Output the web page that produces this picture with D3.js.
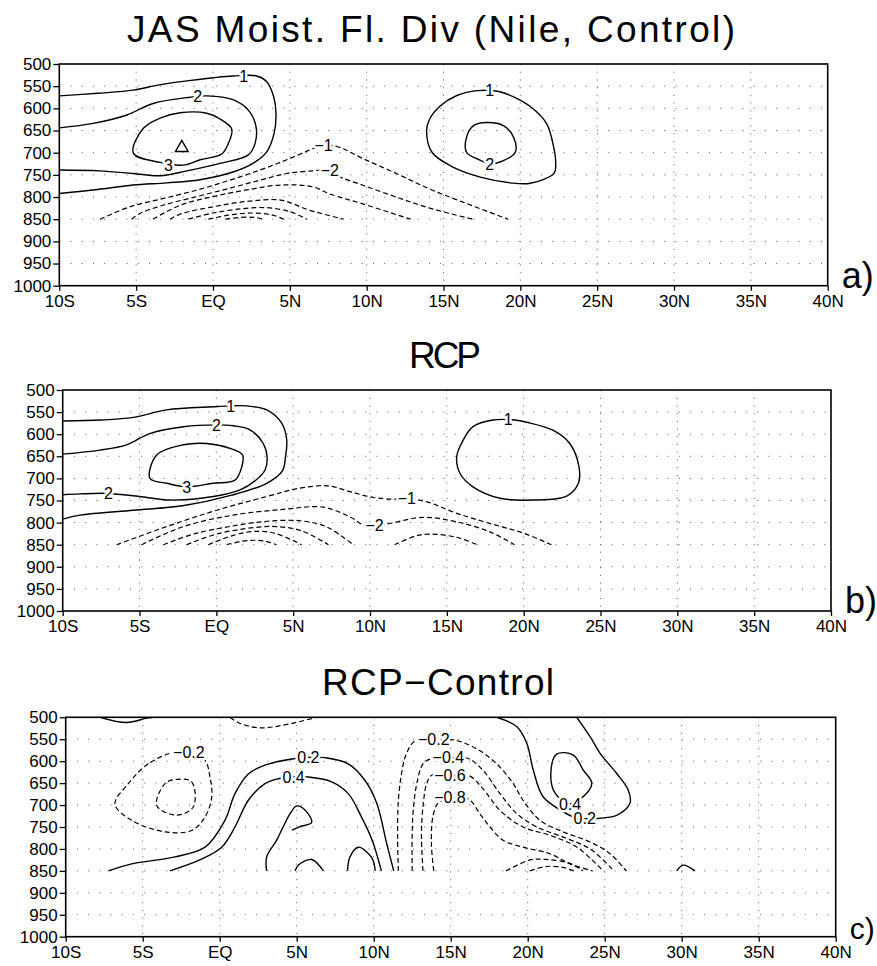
<!DOCTYPE html>
<html>
<head>
  <meta charset="utf-8">
  <script src="https://cdn.jsdelivr.net/npm/d3@7"></script>
  <style>
    body{ margin:0; background:#fff; }
    text{ font-family:"Liberation Sans", Arial, sans-serif; fill:#000; }
    .tick text{ font-size:17px; }
    .grid line{ stroke:#777; stroke-width:1; }
    .clabel{ font-size:16px; paint-order:stroke; stroke:#fff; stroke-width:5px; stroke-linejoin:round; }
  </style>
</head>
<body>
<svg id="chart" width="877" height="966"></svg>
<script>
// axes values
var latTicks = [-10, -5, 0, 5, 10, 15, 20, 25, 30, 35, 40];
var latLabels = ["10S", "5S", "EQ", "5N", "10N", "15N", "20N", "25N", "30N", "35N", "40N"];
var presTicks = [500, 550, 600, 650, 700, 750, 800, 850, 900, 950, 1000];
var titles = ["JAS Moist. Fl. Div (Nile, Control)", "RCP", "RCP\u2212Control"];
var letters = ["a)", "b)", "c)"];

// contours: value, closed?, [lat, hPa] points
var ctlLines = [
  {v:1, pts:[[-10,572],[-7.5,566],[-5.2,559],[-3.5,547],[-1.7,538],[0,531],[1.3,527],[2.85,527],[3.5,540],[3.95,574],[4.1,611],[3.98,656],[3.5,698],[2.6,724],[1.35,743],[-0.84,761],[-3,768],[-5.2,773],[-7.5,783],[-10,792]]},
  {v:2, pts:[[-10,644],[-7.8,634],[-5.6,615],[-3.9,589],[-1.5,575],[-0.4,572],[1.33,581],[2.3,604],[2.8,641],[2.74,679],[2.3,705],[0.46,724],[-1.7,741],[-3.44,752],[-5.2,747],[-7.35,741],[-10,739]]},
  {v:3, closed:true, pts:[[-4.53,645],[-3.44,622],[-2.14,610],[-0.4,611],[0.46,624],[1.22,647],[1.0,679],[0.57,703],[-0.84,716],[-1.93,728],[-3.44,722],[-5.18,701]]},
  {v:1, closed:true, pts:[[17.2,560],[15.87,571],[14.8,594],[14.1,624],[13.9,650],[14.25,699],[15.65,733],[17.4,755],[19.35,768],[20.65,769],[22.2,746],[22.3,724],[22.16,686],[21.7,634],[20.65,596],[19.56,574],[18.6,562]]},
  {v:2, closed:true, pts:[[16.95,639],[17.8,632],[18.9,639],[19.56,665],[19.67,699],[18.9,718],[18,725],[17.2,714],[16.5,699],[16.5,665]]},
  {v:-1, pts:[[-7.35,850],[-5.4,822],[-3.2,803],[-1,784],[1.1,762],[3.07,739],[4.8,716],[6.3,694],[7.1,684],[8.06,686],[9.8,714],[12,748],[14.1,782],[16.3,812],[19.2,850]]},
  {v:-2, pts:[[-5.3,850],[-4.75,837],[-3.2,818],[-1.05,799],[1.1,780],[3.07,762],[4.8,747],[6.5,741],[7.6,739],[8.1,752],[9.8,774],[12,801],[14.1,825],[16.9,850]]},
  {v:-3, pts:[[-3.9,850],[-2.1,818],[0,799],[2.2,784],[4.4,773],[6.5,777],[7.6,793],[9.8,816],[12.85,850]]},
  {v:-4, pts:[[-2.8,850],[-2.1,838],[0,822],[2.2,810],[4.4,807],[6.3,830],[8.5,850]]},
  {v:-5, pts:[[-1.6,850],[0,836],[2,826],[3.5,824],[5,833],[6.1,850]]},
  {v:-6, pts:[[-0.3,850],[1,841],[2.5,836],[3.8,840],[4.6,850]]},
  {v:-7, pts:[[0.8,850],[1.8,846],[2.7,846],[3.3,850]]}
];
var ctlLabels = [[2.0,527,"1"],[-1.0,572,"2"],[-2.9,729,"3"],[18.0,560,"1"],[18.0,725,"2"],[7.2,684,"\u22121"],[7.6,739,"\u22122"]];
var ctlMax = [[-2.03,689]];

var rcpLines = [
  {v:1, pts:[[-10,570],[-7.5,568],[-5.4,562],[-3.23,545],[-0.2,538],[0.93,536],[1.97,536],[3.28,545],[4.25,575],[4.58,613],[4.5,651],[4.3,683],[3.28,711],[1.0,738],[-2.2,762],[-5.4,772],[-8.87,783],[-10,792]]},
  {v:2, pts:[[-10,645],[-7.57,636],[-5.84,624],[-4.3,598],[-2.15,583],[0,579],[1.1,581],[2.19,590],[3.05,621],[3.3,651],[3.17,681],[2.6,703],[1.54,726],[-0.2,741],[-3.0,749],[-5,741],[-7.03,734],[-8.87,735],[-10,737]]},
  {v:3, closed:true, pts:[[-3.88,647],[-2.15,624],[-0.63,621],[0.89,632],[1.71,647],[1.65,674],[1.21,704],[-0.2,711],[-1.93,719],[-3.23,711],[-4.32,700]]},
  {v:1, closed:true, pts:[[18.0,568],[16.7,583],[16.07,613],[15.64,651],[15.86,689],[16.7,719],[18.46,745],[20.6,749],[22.8,740],[23.56,711],[23.6,674],[23.0,621],[21.9,591],[20.2,573],[19.43,568]]},
  {v:-1, pts:[[-6.49,850],[-3.23,809],[0.02,772],[3.28,741],[5.44,722],[7.29,717],[8.7,730],[10.2,743],[11.5,747],[12.5,746],[13.7,753],[15.64,779],[17.8,802],[20.0,824],[21.8,850]]},
  {v:-2, pts:[[-4.86,850],[-2.15,809],[1.1,783],[4.36,770],[6.96,765],[8.7,787],[9.56,805],[10.3,808],[11.3,802],[13.47,788],[15.6,798],[17.8,821],[19.4,850]]},
  {v:-3, pts:[[-3.45,850],[-1.5,826],[1,808],[3.3,797],[5.5,796],[7.2,810],[8.9,850]]},
  {v:-3, pts:[[11.6,850],[13.0,830],[13.9,826],[15.6,833],[17.0,850]]},
  {v:-4, pts:[[-1.93,850],[0,826],[2.5,811],[3.9,809],[5.5,818],[7.3,850]]},
  {v:-5, pts:[[-0.52,850],[1,830],[2.4,820],[3.8,824],[5.55,850]]},
  {v:-6, pts:[[0.67,850],[1.7,842],[2.6,840],[3.3,843],[3.9,850]]}
];
var rcpLabels = [[0.93,536,"1"],[0,579,"2"],[-7.03,734,"2"],[-1.93,719,"3"],[19.0,566,"1"],[12.4,746,"\u22121"],[10.3,807,"\u22122"]];
var rcpMax = [];

var diffLines = [
  {v:0.2, pts:[[-7.77,500],[-6.04,512],[-4.74,502],[-4.3,500]]},
  {v:-0.2, pts:[[0.67,500],[1.32,514],[2.6,524],[4.13,518],[6.3,500]]},
  {v:-0.2, closed:true, pts:[[-2.9,579],[-4.64,606],[-5.93,651],[-6.8,698],[-5.7,735],[-3.55,761],[-1.82,758],[-0.95,727],[-0.52,682],[-0.63,636],[-0.95,598],[-1.8,580]]},
  {v:-0.4, closed:true, pts:[[-2.9,642],[-1.82,647],[-1.71,704],[-2.79,723],[-4.09,701],[-3.55,651]]},
  {v:0.2, pts:[[-7.23,850],[-5.71,834],[-2.9,818],[-0.95,796],[0.34,735],[0.99,674],[1.86,629],[2.94,609],[4.89,594],[5.75,591],[6.84,592],[8.35,606],[9.44,644],[10.2,696],[10.84,787],[11.3,850]]},
  {v:0.4, pts:[[-3.23,850],[-1.3,825],[0.13,796],[0.99,750],[1.86,689],[2.94,651],[3.8,640],[4.78,636],[5.75,636],[7.27,647],[8.35,674],[9.2,727],[9.9,780],[10.5,850]]},
  {v:0.6, pts:[[3.05,850],[3.05,818],[3.7,780],[4.13,749],[4.6,718],[5.0,702],[5.54,711],[5.97,740],[5.21,749],[4.7,757]]},
  {v:0.8, pts:[[4.9,850],[5.1,837],[5.97,824],[6.73,850]]},
  {v:0.8, pts:[[8.3,850],[8.46,818],[9.0,796],[9.87,820],[10.1,850]]},
  {v:-0.2, pts:[[11.6,850],[11.55,770],[11.6,690],[11.8,630],[12.1,585],[12.7,553],[13.9,551],[15.28,552],[16.69,572],[17.99,606],[19.06,651],[19.7,689],[20.8,735],[22.3,761],[24.05,784],[25.35,811],[26.4,850]]},
  {v:-0.4, pts:[[12.5,850],[12.5,760],[12.6,700],[12.8,651],[13.2,606],[13.77,594],[14.85,592],[16.14,594],[17.1,621],[18.2,674],[19.3,720],[20.6,750],[22.3,773],[24.05,800],[25.6,850]]},
  {v:-0.6, pts:[[13.2,850],[13.1,765],[13.22,697],[13.44,651],[13.77,632],[14.95,632],[16.14,632],[17.1,663],[18.2,712],[19.7,750],[21.45,769],[23.2,796],[24.9,850]]},
  {v:-0.8, pts:[[13.9,850],[13.75,790],[13.85,725],[14.2,695],[14.95,684],[16.14,686],[16.9,720],[17.55,750],[18.4,780],[19.7,796],[21.45,811],[22.75,834],[24.2,850]]},
  {v:-1.0, pts:[[18.6,850],[20.15,825],[21.2,824],[22.75,833],[23.6,850]]},
  {v:-1.2, pts:[[20.15,850],[21.2,840],[22.3,842],[23.0,850]]},
  {v:0.2, pts:[[17.99,500],[19.28,521],[19.94,559],[20.36,620],[21.0,681],[22.3,715],[22.96,727],[23.7,731],[24.7,730],[25.8,723],[26.64,696],[26.53,666],[25.78,628],[24.7,582],[24.05,544],[23.18,500]]},
  {v:0.4, closed:true, pts:[[21.88,584],[22.96,586],[23.6,620],[24.16,649],[23.83,673],[22.75,697],[21.78,673],[21.5,628]]},
  {v:0.2, pts:[[29.68,850],[30.1,837],[30.86,850]]}
];
var diffLabels = [[-2.0,579,"\u22120.2"],[5.75,591,"0.2"],[4.8,636,"0.4"],[13.9,551,"\u22120.2"],[14.85,592,"\u22120.4"],[14.95,632,"\u22120.6"],[14.95,683,"\u22120.8"],[22.75,697,"0.4"],[23.7,731,"0.2"]];
var diffMax = [];

// panel layout
var panels = [
  {left:59.3, right:827.7, top:64, bottom:285.7, titleX:431, titleY:42, titleW:608, letterSize:36, lines:ctlLines, labels:ctlLabels, maxima:ctlMax},
  {left:62.7, right:831, top:390, bottom:611, titleX:445, titleY:368, titleW:72, letterSize:36, lines:rcpLines, labels:rcpLabels, maxima:rcpMax},
  {left:65.7, right:835.7, top:717.3, bottom:936.7, titleX:438, titleY:695, titleW:232, letterSize:30, lines:diffLines, labels:diffLabels, maxima:diffMax}
];

var svg = d3.select("#chart");

panels.forEach(function(p, i){
  var x = d3.scaleLinear().domain([-10, 40]).range([p.left, p.right]);
  var y = d3.scaleLinear().domain([500, 1000]).range([p.top, p.bottom]);
  var g = svg.append("g");

  //title
  g.append("text")
    .attr("x", p.titleX)
    .attr("y", p.titleY)
    .attr("text-anchor", "middle")
    .attr("textLength", p.titleW)
    .attr("lengthAdjust", "spacing")
    .style("font-size", "37px")
    .text(titles[i]);

  //dotted grid
  var grid = g.append("g").attr("class", "grid");
  grid.selectAll("line.h")
    .data(presTicks.slice(1, -1))
    .enter().append("line")
    .attr("x1", p.left).attr("x2", p.right)
    .attr("y1", y).attr("y2", y)
    .style("stroke-dasharray", "1.2,10");
  grid.selectAll("line.v")
    .data(latTicks.slice(1, -1))
    .enter().append("line")
    .attr("x1", x).attr("x2", x)
    .attr("y1", p.top).attr("y2", p.bottom)
    .style("stroke-dasharray", "1.2,6.5");

  //contours
  var clipId = "clip" + i;
  g.append("clipPath").attr("id", clipId)
    .append("rect")
    .attr("x", p.left).attr("y", p.top)
    .attr("width", p.right - p.left).attr("height", p.bottom - p.top);

  var cg = g.append("g").attr("clip-path", "url(#" + clipId + ")");
  cg.selectAll("path")
    .data(p.lines)
    .enter().append("path")
    .attr("d", function(d){
      return d3.line()
        .x(function(q){ return x(q[0]); })
        .y(function(q){ return y(q[1]); })
        .curve(d.closed ? d3.curveCatmullRomClosed : d3.curveCatmullRom)(d.pts);
    })
    .attr("fill", "none")
    .attr("stroke", "#000")
    .attr("stroke-width", function(d){ return d.v < 0 ? 1.2 : 1.4; })
    .attr("stroke-dasharray", function(d){ return d.v < 0 ? "5,3" : null; });

  //max marker
  g.selectAll("path.mx")
    .data(p.maxima)
    .enter().append("path")
    .attr("transform", function(d){ return "translate(" + x(d[0]) + "," + y(d[1]) + ")"; })
    .attr("d", d3.symbol().type(d3.symbolTriangle).size(70))
    .attr("fill", "none")
    .attr("stroke", "#000")
    .attr("stroke-width", 1.4);

  //contour labels
  g.selectAll("text.clabel")
    .data(p.labels)
    .enter().append("text")
    .attr("class", "clabel")
    .attr("x", function(d){ return x(d[0]); })
    .attr("y", function(d){ return y(d[1]); })
    .attr("dy", "0.36em")
    .attr("text-anchor", "middle")
    .text(function(d){ return d[2]; });

  //axes
  var yAxis = d3.axisLeft(y).tickValues(presTicks).tickSize(6).tickSizeOuter(0).tickPadding(2)
    .tickFormat(d3.format("d"));
  var xAxis = d3.axisBottom(x).tickValues(latTicks).tickSize(5).tickSizeOuter(0).tickPadding(4)
    .tickFormat(function(d, k){ return latLabels[k]; });

  g.append("g").attr("transform", "translate(" + p.left + ",0)").call(yAxis)
    .call(function(s){ s.select(".domain").remove(); });
  g.append("g").attr("transform", "translate(0," + p.bottom + ")").call(xAxis)
    .call(function(s){ s.select(".domain").remove(); });
  g.selectAll(".tick line").attr("stroke", "#000").attr("stroke-width", 1.3);
  g.selectAll(".tick text").style("font-size", "17px").attr("fill", "#000");

  //frame
  g.append("rect")
    .attr("x", p.left).attr("y", p.top)
    .attr("width", p.right - p.left).attr("height", p.bottom - p.top)
    .attr("fill", "none").attr("stroke", "#000").attr("stroke-width", 1.6);

  //panel letter
  g.append("text")
    .attr("x", p.right + 14)
    .attr("y", p.bottom + 2)
    .style("font-size", p.letterSize + "px")
    .text(letters[i]);
});
</script>
</body>
</html>
